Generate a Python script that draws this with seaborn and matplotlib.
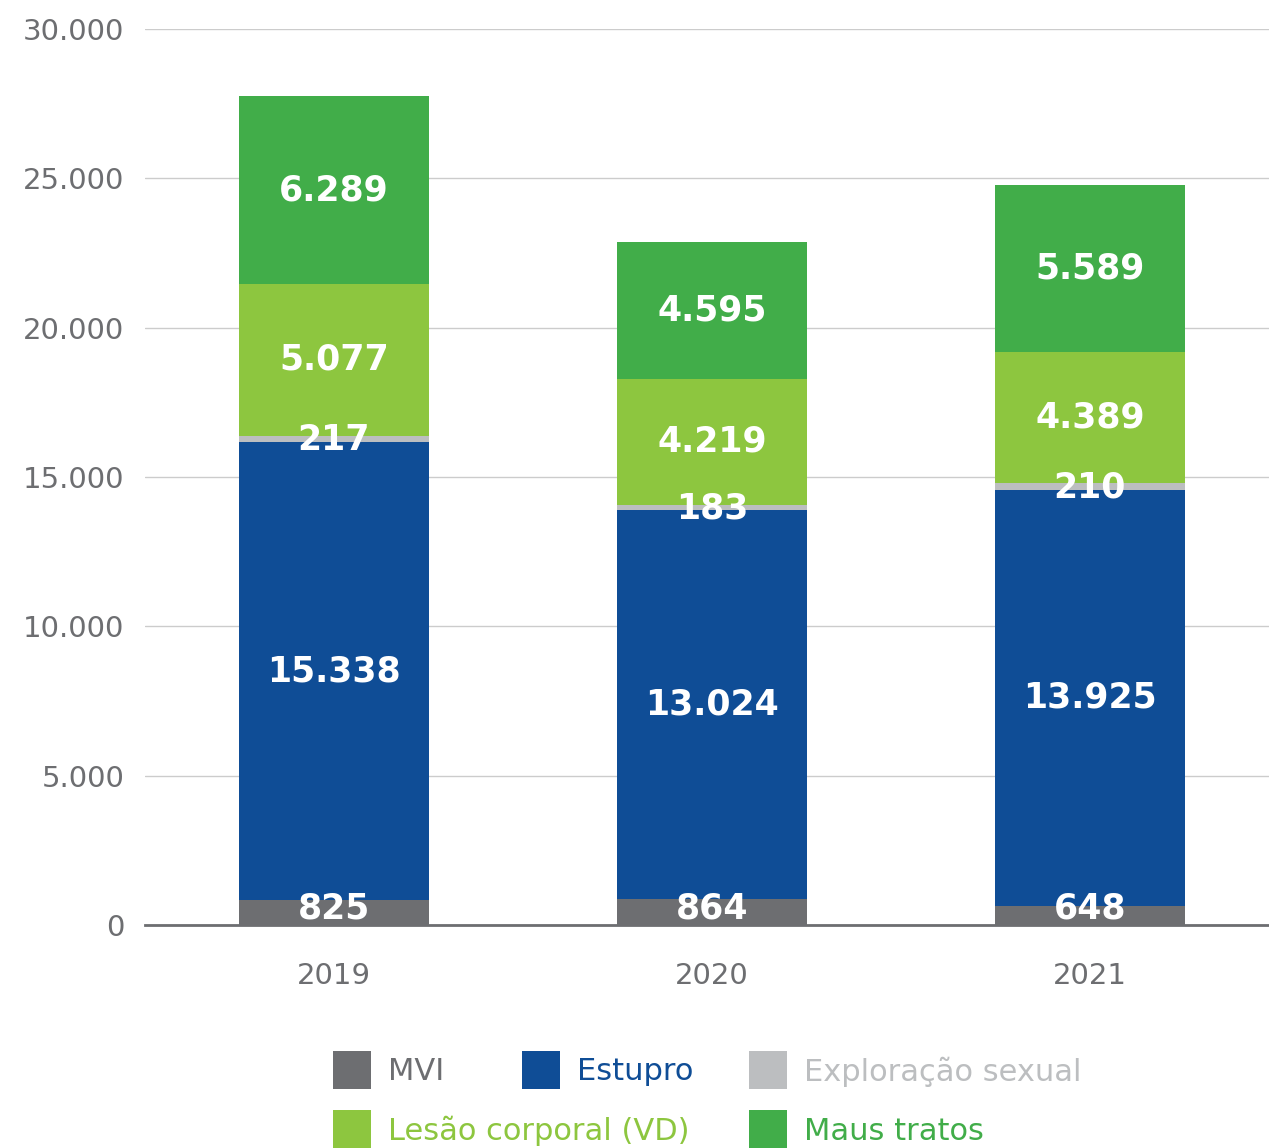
import numpy as np
import pandas as pd
import matplotlib
matplotlib.use('Agg')
import matplotlib.pyplot as plt
from matplotlib.patches import Rectangle
import seaborn as sns

years = ['2019', '2020', '2021']
categories = ['MVI', 'Estupro', 'Exploração sexual', 'Lesão corporal (VD)', 'Maus tratos']
mvi = [825, 864, 648]
estupro = [15338, 13024, 13925]
exploracao = [217, 183, 210]
lesao = [5077, 4219, 4389]
maus = [6289, 4595, 5589]
colors = ['#6d6e71', '#0f4d96', '#bcbec0', '#8dc63f', '#41ad49']
y_ticks = [0, 5000, 10000, 15000, 20000, 25000, 30000]

sns.set_theme(style='white')
plt.rcParams['font.family'] = ['DejaVu Sans']

series = [mvi, estupro, exploracao, lesao, maus]
vals = np.array(series, dtype=float)
tops = vals.cumsum(axis=0)
bottoms = tops - vals

fig = plt.figure(figsize=(12.69, 11.48), dpi=100)
ax = fig.add_axes([145 / 1269, 223 / 1148, 1 - 145 / 1269, (925 - 29) / 1148])

# draw stacked bars from the top layer down so each covers the one below
for i in range(len(categories) - 1, -1, -1):
    df = pd.DataFrame({'ano': years, 'valor': tops[i]})
    sns.barplot(data=df, x='ano', y='valor', order=years, color=colors[i],
                width=0.503, saturation=1, linewidth=0, edgecolor='none',
                ax=ax, zorder=3)

# value labels
for i in range(len(categories)):
    for j in range(len(years)):
        v = int(vals[i, j])
        txt = f'{v:,}'.replace(',', '.')
        yc = bottoms[i, j] + vals[i, j] / 2
        if i == 0:
            yc = 560
        elif i == 2:
            yc = yc - 30
        ax.text(j, yc, txt, ha='center', va='center', color='white',
                fontsize=25, fontweight='bold', zorder=5)

ax.set_ylim(0, 30000)
ax.set_xlim(-0.5, 2.474)
ax.set_yticks(y_ticks)
ax.set_yticklabels([f'{t:,}'.replace(',', '.') for t in y_ticks])
ax.yaxis.grid(True, color='#cccccc', linewidth=1.0, zorder=0)
ax.set_axisbelow(True)
for s in ['top', 'right', 'left']:
    ax.spines[s].set_visible(False)
ax.spines['bottom'].set_color('#6d6e71')
ax.spines['bottom'].set_linewidth(2)
ax.spines['bottom'].set_zorder(6)
ax.tick_params(axis='y', length=0, pad=15, labelsize=21, labelcolor='#6d6e71')
ax.tick_params(axis='x', length=0, pad=27, labelsize=21, labelcolor='#6d6e71')
ax.set_xlabel('')
ax.set_ylabel('')

# legend drawn as flow layout (two rows)
W, H = 1269, 1148
legend_items = [
    (0, 333, 1070), (1, 522, 1070), (2, 749, 1070),
    (3, 333, 1129), (4, 749, 1129),
]
for idx, px, py in legend_items:
    fig.add_artist(Rectangle((px / W, (H - py - 19) / H), 38 / W, 38 / H,
                             transform=fig.transFigure, facecolor=colors[idx],
                             edgecolor='none'))
    fig.text((px + 55) / W, (H - py - 2) / H, categories[idx], color=colors[idx],
             fontsize=22, ha='left', va='center')

fig.savefig('out.png', dpi=100)
